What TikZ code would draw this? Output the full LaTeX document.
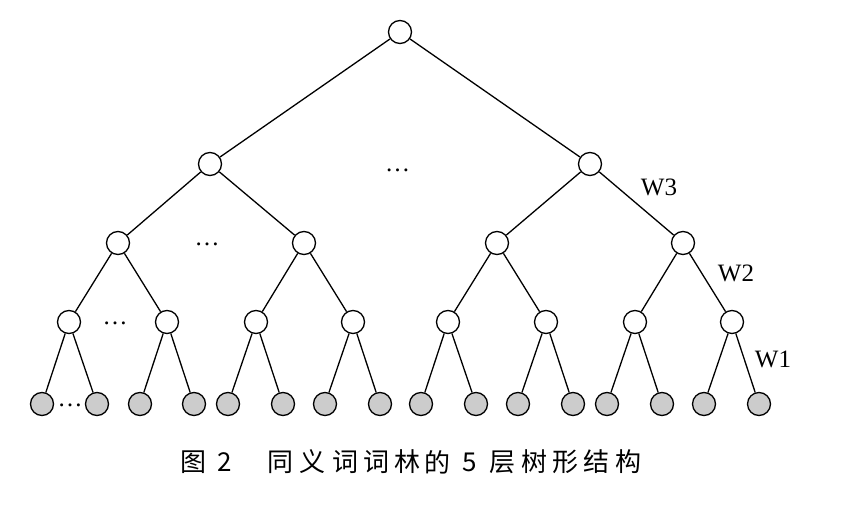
\documentclass[tikz,border=0pt]{standalone}
\usepackage{fontspec}
\setmainfont{Liberation Serif}
\newfontfamily\cjk{Noto Sans CJK SC}
\begin{document}
\begin{tikzpicture}[x=1pt,y=-1pt,
  innode/.style={circle,draw,line width=1.3pt,fill=white,minimum size=23pt,inner sep=0pt},
  leafnode/.style={circle,draw,line width=1.3pt,fill=black!20,minimum size=23pt,inner sep=0pt},
  conn/.style={line width=1.3pt},
  lab/.style={font=\fontsize{25}{25}\selectfont,inner sep=0pt},
  dotsl/.style={font=\fontsize{25}{25}\selectfont,inner sep=0pt,anchor=base},
  captext/.style={font=\cjk\fontsize{26}{26}\selectfont,inner sep=0pt}]
\useasboundingbox (0,0) rectangle (856,508);
% level 1
\node[innode] (r) at (400,32) {};
% level 2
\node[innode] (a) at (210,164) {};
\node[innode] (b) at (590,164) {};
% level 3
\node[innode] (a1) at (118,243) {};
\node[innode] (a2) at (304,243) {};
\node[innode] (b1) at (497,243) {};
\node[innode] (b2) at (683,243) {};
% level 4
\node[innode] (c1) at (69,322) {};
\node[innode] (c2) at (167,322) {};
\node[innode] (c3) at (256,322) {};
\node[innode] (c4) at (353,322) {};
\node[innode] (c5) at (448,322) {};
\node[innode] (c6) at (546,322) {};
\node[innode] (c7) at (635,322) {};
\node[innode] (c8) at (732,322) {};
% level 5
\foreach \i/\x in {1/42,2/97,3/140,4/194,5/228,6/283,7/325,8/380,9/421,10/476,11/518,12/573,13/607,14/662,15/704,16/759}{
  \node[leafnode] (l\i) at (\x,404) {};
}
% edges
\draw[conn] (r)--(a) (r)--(b);
\draw[conn] (a)--(a1) (a)--(a2) (b)--(b1) (b)--(b2);
\draw[conn] (a1)--(c1) (a1)--(c2) (a2)--(c3) (a2)--(c4)
            (b1)--(c5) (b1)--(c6) (b2)--(c7) (b2)--(c8);
\foreach \p/\u/\v in {c1/l1/l2,c2/l3/l4,c3/l5/l6,c4/l7/l8,c5/l9/l10,c6/l11/l12,c7/l13/l14,c8/l15/l16}{
  \draw[conn] (\p)--(\u) (\p)--(\v);
}
% dots
\node[dotsl] (d1) at (397.5,171) {\dots};
\node[dotsl] (d2) at (207,245) {\dots};
\node[dotsl] (d3) at (115,324) {\dots};
\node[dotsl] (d4) at (70,406) {\dots};
% labels
\node[lab] (w3) at (659,187) {W3};
\node[lab] (w2) at (736,273) {W2};
\node[lab] (w1) at (773,359) {W1};
% caption
\foreach \n/\x/\t in {k1/193.3/图,k2/225/2,k3/280/同,k4/312.5/义,k5/345/词,k6/376/词,k7/407.2/林,k8/437/的,k9/470/5,k10/502.5/层,k11/534.2/树,k12/565/形,k13/596/结,k14/628.3/构}{
  \node[captext] (\n) at (\x,462) {\t};
}
\end{tikzpicture}
\end{document}
